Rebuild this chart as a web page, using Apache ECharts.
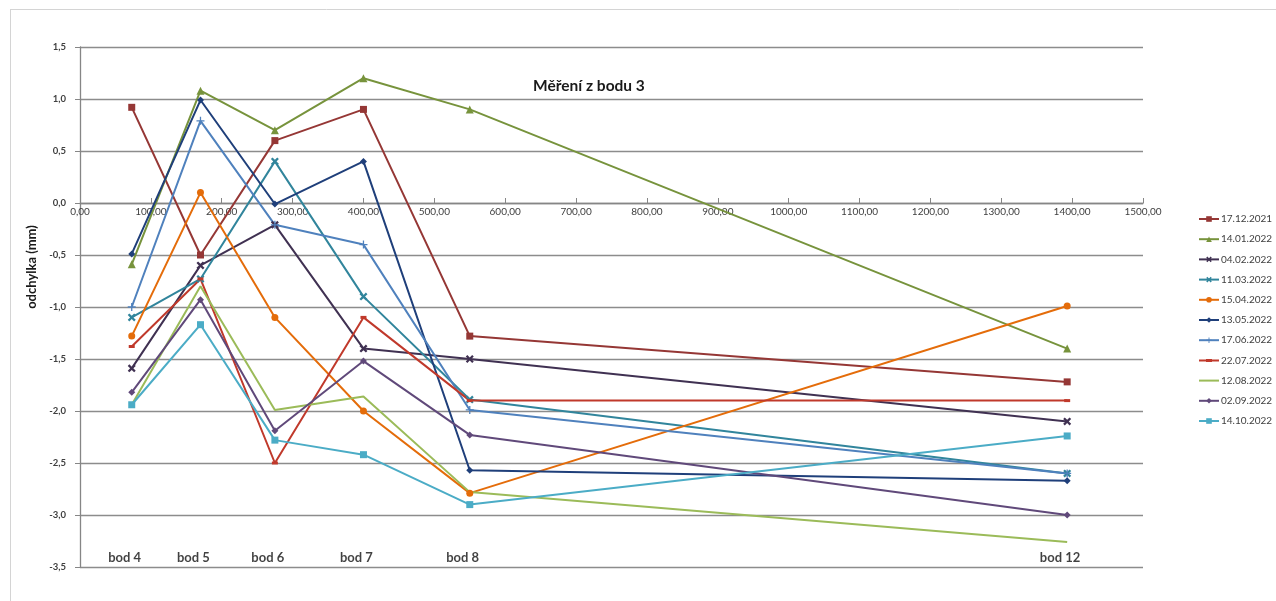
<!DOCTYPE html>
<html>
<head>
<meta charset="utf-8">
<script src="https://cdn.jsdelivr.net/npm/echarts@6/dist/echarts.min.js"></script>
<style>
html,body{margin:0;padding:0;background:#fff;}
#chart{width:1276px;height:601px;}
</style>
</head>
<body>
<div id="chart"></div>
<script>
// x positions (distance) of measured points
var pointX = [73, 170, 275, 400, 550, 1393];
var pointLabels = ['bod 4', 'bod 5', 'bod 6', 'bod 7', 'bod 8', 'bod 12'];
var labelY = -3.41;

var seriesNames = ['17.12.2021','14.01.2022','04.02.2022','11.03.2022','15.04.2022','13.05.2022','17.06.2022','22.07.2022','12.08.2022','02.09.2022','14.10.2022'];

var s17_12_2021 = [0.92, -0.50, 0.60, 0.90, -1.28, -1.72];
var s14_01_2022 = [-0.59, 1.08, 0.70, 1.20, 0.90, -1.40];
var s04_02_2022 = [-1.59, -0.60, -0.21, -1.40, -1.50, -2.10];
var s11_03_2022 = [-1.10, -0.73, 0.40, -0.90, -1.89, -2.60];
var s15_04_2022 = [-1.28, 0.10, -1.10, -2.00, -2.79, -0.99];
var s13_05_2022 = [-0.49, 0.99, -0.01, 0.40, -2.57, -2.67];
var s17_06_2022 = [-1.00, 0.79, -0.21, -0.40, -1.99, -2.60];
var s22_07_2022 = [-1.38, -0.73, -2.50, -1.10, -1.90, -1.90];
var s12_08_2022 = [-1.94, -0.80, -1.99, -1.86, -2.78, -3.26];
var s02_09_2022 = [-1.82, -0.93, -2.19, -1.52, -2.23, -3.00];
var s14_10_2022 = [-1.94, -1.17, -2.28, -2.42, -2.90, -2.24];

var xTicksMin = 0, xTicksMax = 1500, xTicksStep = 100;
var yTicksMin = -3.5, yTicksMax = 1.5, yTicksStep = 0.5;

var allValues = [s17_12_2021, s14_01_2022, s04_02_2022, s11_03_2022, s15_04_2022, s13_05_2022, s17_06_2022, s22_07_2022, s12_08_2022, s02_09_2022, s14_10_2022];

var colors = ['#953735','#77933C','#403152','#31859C','#E46C0A','#1F3F7A','#4F81BD','#C0392B','#9BBB59','#60497A','#4BACC6'];
var X = 'path://M2,0L5,3L8,0L10,2L7,5L10,8L8,10L5,7L2,10L0,8L3,5L0,2Z';
var PLUS = 'path://M4.2,0H5.8V4.2H10V5.8H5.8V10H4.2V5.8H0V4.2H4.2Z';
var symbols = ['rect','triangle',X,X,'circle','diamond',PLUS,'rect','none','diamond','rect'];
var sizes = [7,8,8,8,7,7,8,[6,3],0,7,7];

var font = 'Lato, "Liberation Sans", sans-serif';

var series = seriesNames.map(function(n, i){
  return {
    name: n,
    type: 'line',
    data: allValues[i].map(function(v, j){ return [pointX[j], v]; }),
    symbol: symbols[i],
    symbolSize: sizes[i],
    showSymbol: symbols[i] !== 'none',
    lineStyle: {color: colors[i], width: 2},
    itemStyle: {color: colors[i], borderColor: colors[i], borderWidth: 0},
    emphasis: {disabled: true},
    animation: false,
    z: 3
  };
});

series.push({
  name: 'labels',
  type: 'scatter',
  silent: true,
  symbolSize: 0,
  data: pointX.map(function(x, j){ return [x - 10, labelY]; }),
  label: {
    show: true,
    position: 'inside',
    formatter: function(p){ return pointLabels[p.dataIndex]; },
    color: '#111111',
    fontWeight: 'bold',
    fontSize: 13,
    fontFamily: font
  },
  animation: false,
  z: 5
});

var legendData = seriesNames.map(function(n, i){
  if (n === '12.08.2022') return {name: n, icon: 'path://M0,0H20V2H0Z'};
  if (n === '22.07.2022') return {name: n, icon: 'path://M0,2.5H20V4.5H0Z M7,2H13V5H7Z'};
  return {name: n};
});

var chart = echarts.init(document.getElementById('chart'), null, {renderer: 'canvas'});
chart.setOption({
  animation: false,
  backgroundColor: '#ffffff',
  color: colors,
  title: {
    text: 'Měření z bodu 3',
    left: 528,
    top: 73,
    textStyle: {fontSize: 15.5, fontWeight: 'bold', color: '#1a1a1a', fontFamily: font}
  },
  legend: {
    orient: 'vertical',
    left: 1193,
    top: 209,
    data: legendData,
    itemWidth: 20,
    itemHeight: 7,
    itemGap: 10.2,
    textStyle: {fontSize: 10, color: '#404040', fontFamily: font, padding: [0,0,0,-3]},
    selectedMode: false
  },
  grid: {left: 80, right: 133, top: 47, bottom: 34, containLabel: false},
  xAxis: {
    type: 'value',
    min: xTicksMin, max: xTicksMax, interval: xTicksStep,
    position: 'bottom',
    offset: -364,
    axisLine: {onZero: false, lineStyle: {color: '#868686', width: 1.3}},
    axisTick: {show: true, inside: true, length: 5, lineStyle: {color: '#868686'}},
    axisLabel: {
      color: '#404040', fontSize: 10, fontFamily: font, margin: 4,
      formatter: function(v){ return v.toFixed(2).replace('.', ','); }
    },
    splitLine: {show: false}
  },
  yAxis: {
    type: 'value',
    min: yTicksMin, max: yTicksMax, interval: yTicksStep,
    name: 'odchylka (mm)',
    nameLocation: 'middle',
    nameGap: 42,
    nameTextStyle: {fontSize: 13, fontWeight: 'bold', color: '#1a1a1a', fontFamily: font, padding: [0, 0, 0, 80]},
    axisLine: {show: true, lineStyle: {color: '#868686', width: 1.3}},
    axisTick: {show: true, length: 5, lineStyle: {color: '#868686'}},
    axisLabel: {
      color: '#404040', fontSize: 9.5, fontWeight: 'bold', fontFamily: font, margin: 14,
      formatter: function(v){ return v.toFixed(1).replace('.', ','); }
    },
    splitLine: {show: true, lineStyle: {color: '#8c8c8c', width: 1.3}}
  },
  graphic: [
    {type: 'line', shape: {x1: 10, y1: 9.5, x2: 1276, y2: 9.5}, style: {stroke: '#d4d4d4', lineWidth: 1}, silent: true},
    {type: 'line', shape: {x1: 10.5, y1: 9, x2: 10.5, y2: 601}, style: {stroke: '#d4d4d4', lineWidth: 1}, silent: true}
  ],
  series: series
});
</script>
</body>
</html>
